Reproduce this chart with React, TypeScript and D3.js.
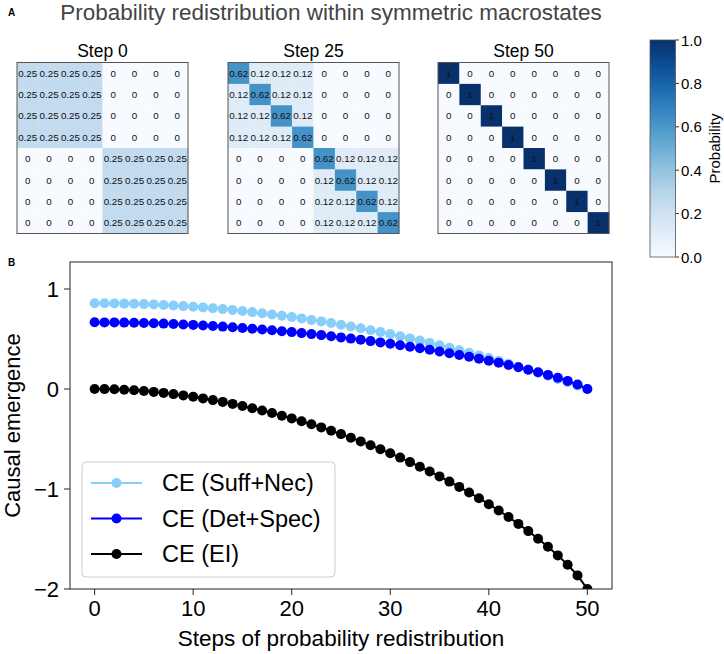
import React from "react";
import * as d3 from "d3";

// heatmap matrices (transition probabilities shown in panel A)
const step0 = [
  [0.25, 0.25, 0.25, 0.25, 0, 0, 0, 0],
  [0.25, 0.25, 0.25, 0.25, 0, 0, 0, 0],
  [0.25, 0.25, 0.25, 0.25, 0, 0, 0, 0],
  [0.25, 0.25, 0.25, 0.25, 0, 0, 0, 0],
  [0, 0, 0, 0, 0.25, 0.25, 0.25, 0.25],
  [0, 0, 0, 0, 0.25, 0.25, 0.25, 0.25],
  [0, 0, 0, 0, 0.25, 0.25, 0.25, 0.25],
  [0, 0, 0, 0, 0.25, 0.25, 0.25, 0.25],
];
const step25 = [
  [0.62, 0.12, 0.12, 0.12, 0, 0, 0, 0],
  [0.12, 0.62, 0.12, 0.12, 0, 0, 0, 0],
  [0.12, 0.12, 0.62, 0.12, 0, 0, 0, 0],
  [0.12, 0.12, 0.12, 0.62, 0, 0, 0, 0],
  [0, 0, 0, 0, 0.62, 0.12, 0.12, 0.12],
  [0, 0, 0, 0, 0.12, 0.62, 0.12, 0.12],
  [0, 0, 0, 0, 0.12, 0.12, 0.62, 0.12],
  [0, 0, 0, 0, 0.12, 0.12, 0.12, 0.62],
];
const step50 = [
  [1, 0, 0, 0, 0, 0, 0, 0],
  [0, 1, 0, 0, 0, 0, 0, 0],
  [0, 0, 1, 0, 0, 0, 0, 0],
  [0, 0, 0, 1, 0, 0, 0, 0],
  [0, 0, 0, 0, 1, 0, 0, 0],
  [0, 0, 0, 0, 0, 1, 0, 0],
  [0, 0, 0, 0, 0, 0, 1, 0],
  [0, 0, 0, 0, 0, 0, 0, 1],
];
const panels = [
  { title: "Step 0", m: step0 },
  { title: "Step 25", m: step25 },
  { title: "Step 50", m: step50 },
];
const cbTicks = [0, 0.2, 0.4, 0.6, 0.8, 1.0];

// panel B series, one value per step 0..50
const ceSuffNec = [
  0.857, 0.857, 0.856, 0.854, 0.852, 0.849, 0.845, 0.840, 0.835, 0.829,
  0.823, 0.816, 0.808, 0.799, 0.790, 0.780, 0.769, 0.758, 0.746, 0.733,
  0.720, 0.706, 0.691, 0.676, 0.660, 0.643, 0.625, 0.607, 0.588, 0.569,
  0.549, 0.528, 0.506, 0.484, 0.461, 0.437, 0.413, 0.388, 0.362, 0.336,
  0.309, 0.281, 0.252, 0.223, 0.193, 0.163, 0.132, 0.100, 0.067, 0.034,
  0.0,
];
const ceDetSpec = [
  0.667, 0.666, 0.666, 0.664, 0.662, 0.660, 0.657, 0.654, 0.650, 0.645,
  0.641, 0.635, 0.630, 0.624, 0.617, 0.610, 0.603, 0.595, 0.587, 0.578,
  0.569, 0.559, 0.549, 0.539, 0.528, 0.516, 0.504, 0.492, 0.479, 0.466,
  0.452, 0.438, 0.423, 0.408, 0.392, 0.375, 0.358, 0.340, 0.322, 0.303,
  0.283, 0.262, 0.240, 0.217, 0.193, 0.168, 0.141, 0.112, 0.081, 0.045,
  0.0,
];
const ceEI = [
  0.0, -0.001, -0.003, -0.007, -0.013, -0.020, -0.029, -0.039, -0.051, -0.064,
  -0.078, -0.094, -0.111, -0.129, -0.149, -0.170, -0.192, -0.215, -0.240, -0.267,
  -0.294, -0.323, -0.353, -0.384, -0.417, -0.451, -0.487, -0.524, -0.562, -0.602,
  -0.643, -0.686, -0.731, -0.777, -0.825, -0.874, -0.926, -0.979, -1.035, -1.092,
  -1.152, -1.215, -1.280, -1.349, -1.421, -1.497, -1.577, -1.664, -1.758, -1.864,
  -2.0,
];
const series = [
  { name: "CE (Suff+Nec)", values: ceSuffNec, color: "#87cefa" },
  { name: "CE (Det+Spec)", values: ceDetSpec, color: "#0000ff" },
  { name: "CE (EI)", values: ceEI, color: "#000000" },
];
const xTicks = [0, 10, 20, 30, 40, 50];
const yTicks = [1, 0, -1, -2];

const FONT = "'Liberation Sans', Arial, Helvetica, sans-serif";

export default function App() {
  const W = 724;
  const H = 654;

  // panel A layout
  const hmLefts = [17, 228, 438];
  const hmTop = 62.5;
  const hmSize = 171;
  const color = d3.scaleSequential(d3.interpolateBlues).domain([0, 1]);
  const band = d3.scaleBand<number>().domain(d3.range(8)).range([0, hmSize]);
  const fmt = (v: number) => (v === 0 ? "0" : v === 1 ? "1" : String(v));

  const cb = { x: 650, w: 25.5, top: 40, bottom: 257 };
  const cbY = d3.scaleLinear().domain([0, 1]).range([cb.bottom, cb.top]);

  // panel B layout
  const plot = { left: 70, right: 612, top: 262, bottom: 589 };
  const x = d3.scaleLinear().domain([-2.5, 52.5]).range([plot.left, plot.right]);
  const y = d3.scaleLinear().domain([-2, 1.27]).range([plot.bottom, plot.top]);
  const steps = d3.range(ceEI.length);
  const line = (vals: number[]) =>
    d3.line<number>().x((_, i) => x(steps[i])).y((d) => y(d))(vals) || "";
  const yFmt = d3.format("d");

  const leg = { x: 82, y: 462, w: 253, h: 115 };

  return (
    <div style={{ position: "absolute", left: 0, top: 0 }}>
      <svg width={W} height={H} style={{ display: "block", fontFamily: FONT }}>
        <defs>
          <linearGradient id="cbGrad" x1="0" y1="1" x2="0" y2="0">
            {d3.range(0, 1.01, 0.1).map((t) => (
              <stop key={t} offset={`${t * 100}%`} stopColor={color(t)} />
            ))}
          </linearGradient>
          <clipPath id="plotClip">
            <rect x={plot.left} y={plot.top} width={plot.right - plot.left} height={plot.bottom - plot.top} />
          </clipPath>
        </defs>

        <text x={8} y={16} fontSize={10} fontWeight="bold">A</text>
        <text x={331} y={20} fontSize={22.5} fill="#444" textAnchor="middle">
          Probability redistribution within symmetric macrostates
        </text>

        {panels.map((p, k) => (
          <g key={p.title} transform={`translate(${hmLefts[k]},${hmTop})`}>
            <text x={hmSize / 2} y={-6} fontSize={17.5} textAnchor="middle">{p.title}</text>
            {p.m.map((row, r) =>
              row.map((v, c) => (
                <g key={`${r}-${c}`}>
                  <rect
                    x={band(c)}
                    y={band(r)}
                    width={band.bandwidth() + 0.3}
                    height={band.bandwidth() + 0.3}
                    fill={color(v)}
                  />
                  <text
                    x={(band(c) as number) + band.bandwidth() / 2}
                    y={(band(r) as number) + band.bandwidth() / 2}
                    fontSize={9.8}
                    textAnchor="middle"
                    dominantBaseline="central"
                    fill="#111"
                  >
                    {fmt(v)}
                  </text>
                </g>
              ))
            )}
            <rect x={0} y={0} width={hmSize} height={hmSize} fill="none" stroke="#555" strokeWidth={1} />
          </g>
        ))}

        <rect x={cb.x} y={cb.top} width={cb.w} height={cb.bottom - cb.top} fill="url(#cbGrad)" stroke="#555" strokeWidth={0.8} />
        {cbTicks.map((t) => (
          <g key={t} transform={`translate(${cb.x + cb.w},${cbY(t)})`}>
            <line x1={0} x2={3.5} stroke="#333" />
            <text x={5.5} y={0} fontSize={15} dominantBaseline="central">{t.toFixed(1)}</text>
          </g>
        ))}
        <text
          transform={`translate(714,${(cb.top + cb.bottom) / 2}) rotate(-90)`}
          fontSize={15}
          textAnchor="middle"
          dominantBaseline="central"
        >
          Probability
        </text>

        <text x={8} y={266} fontSize={10} fontWeight="bold">B</text>

        <g clipPath="url(#plotClip)">
          {series.map((s) => (
            <g key={s.name}>
              <path d={line(s.values)} fill="none" stroke={s.color} strokeWidth={2} />
              {s.values.map((v, i) => (
                <circle key={i} cx={x(steps[i])} cy={y(v)} r={5} fill={s.color} />
              ))}
            </g>
          ))}
        </g>
        <rect
          x={plot.left}
          y={plot.top}
          width={plot.right - plot.left}
          height={plot.bottom - plot.top}
          fill="none"
          stroke="#222"
          strokeWidth={1}
        />
        {xTicks.map((t) => (
          <g key={t} transform={`translate(${x(t)},${plot.bottom})`}>
            <line y1={0} y2={6} stroke="#222" />
            <text y={27} fontSize={22} textAnchor="middle">{t}</text>
          </g>
        ))}
        {yTicks.map((t) => (
          <g key={t} transform={`translate(${plot.left},${y(t)})`}>
            <line x1={0} x2={-6} stroke="#222" />
            <text x={-11} y={0} fontSize={22} textAnchor="end" dominantBaseline="central">{yFmt(t)}</text>
          </g>
        ))}
        <text x={(plot.left + plot.right) / 2} y={646} fontSize={22.5} textAnchor="middle">
          Steps of probability redistribution
        </text>
        <text
          transform={`translate(20,${(plot.top + plot.bottom) / 2}) rotate(-90)`}
          fontSize={22}
          textAnchor="middle"
        >
          Causal emergence
        </text>

        <rect x={leg.x} y={leg.y} width={leg.w} height={leg.h} rx={4} fill="#fff" fillOpacity={0.8} stroke="#ccc" />
        {series.map((s, i) => {
          const ly = 483 + i * 35.5;
          return (
            <g key={s.name}>
              <line x1={91} x2={142} y1={ly} y2={ly} stroke={s.color} strokeWidth={2} />
              <circle cx={116.5} cy={ly} r={5} fill={s.color} />
              <text x={162} y={ly} fontSize={23.5} dominantBaseline="central">{s.name}</text>
            </g>
          );
        })}
      </svg>
    </div>
  );
}
